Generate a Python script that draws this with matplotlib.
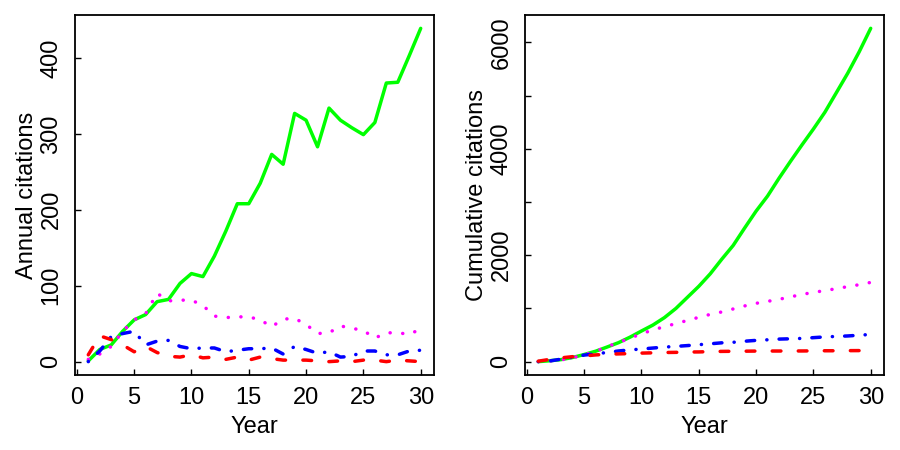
import numpy as np
import matplotlib
matplotlib.use('Agg')
import matplotlib.pyplot as plt

plt.rcParams['font.family'] = ['Liberation Sans', 'DejaVu Sans']

# annual citations per year
years = np.arange(1, 31)
green = [1, 16, 22, 40, 55, 62, 79, 82, 103, 116, 112, 139, 172, 208, 208,
         235, 273, 260, 327, 318, 283, 334, 318, 308, 299, 315, 367, 368, 403, 439]
magenta = [3, 10, 20, 40, 55, 63, 90, 80, 81, 81, 74, 60, 58, 59, 59,
           55, 46, 56, 57, 49, 37, 38, 47, 44, 41, 31, 38, 38, 36, 43]
blue = [0, 14, 33, 37, 40, 22, 27, 28, 20, 17, 18, 18, 13, 15, 17,
        17, 18, 10, 20, 16, 11, 13, 6, 7, 14, 14, 9, 9, 14, 15]
red = [9, 34, 29, 22, 13, 20, 12, 7, 6, 9, 5, 6, 3, 6, 2,
       6, 4, 2, 2, 2, 1, 0, 1, 0, 2, 2, 0, 2, 1, 0]

left_yticks = [0, 100, 200, 300, 400]
right_yticks = [0, 1000, 2000, 3000, 4000, 5000, 6000]
right_ylabels = ['0', '', '2000', '', '4000', '', '6000']
xticks = [0, 5, 10, 15, 20, 25, 30]

styles = [
    (green, '#00ff00', dict(linestyle='-')),
    (magenta, '#ff00ff', dict(dashes=(0.04, 3.6))),
    (blue, '#0000ff', dict(dashes=(0.05, 3.5, 2.4, 3.5))),
    (red, '#ff0000', dict(dashes=(2.5, 5.0))),
]
FS = 17

fig = plt.figure(figsize=(9, 4.5), dpi=100)
ax1 = fig.add_axes([75 / 900, 75 / 450, 359 / 900, 360 / 450])
ax2 = fig.add_axes([525 / 900, 75 / 450, 359 / 900, 360 / 450])


def draw(ax, cumulative):
    for vals, col, ls in styles:
        y = np.cumsum(vals) if cumulative else np.asarray(vals)
        ax.plot(years, y, color=col, lw=2.5, solid_capstyle='round',
                dash_capstyle='round', **ls)
    ax.set_xlim(-0.16, 31.16)
    ax.set_xticks(xticks)
    ax.tick_params(direction='in', length=4.5, width=1, labelsize=FS)
    ax.tick_params(axis='x', pad=9)
    ax.tick_params(axis='y', pad=9)
    for s in ax.spines.values():
        s.set_linewidth(1.3)
    ax.set_xlabel('Year', fontsize=FS, labelpad=5)


draw(ax1, False)
ax1.set_ylim(-17.6, 456.6)
ax1.set_yticks(left_yticks)
for lab in ax1.get_yticklabels():
    lab.set_rotation(90)
    lab.set_va('center')
ax1.set_ylabel('Annual citations', fontsize=FS, labelpad=2)

draw(ax2, True)
top = np.cumsum(green)[-1]
ax2.set_ylim(-0.04 * top, 1.04 * top)
ax2.set_yticks(right_yticks)
ax2.set_yticklabels(right_ylabels)
for lab in ax2.get_yticklabels():
    lab.set_rotation(90)
    lab.set_va('center')
ax2.set_ylabel('Cumulative citations', fontsize=FS, labelpad=2)

fig.savefig('out.png', dpi=100)
